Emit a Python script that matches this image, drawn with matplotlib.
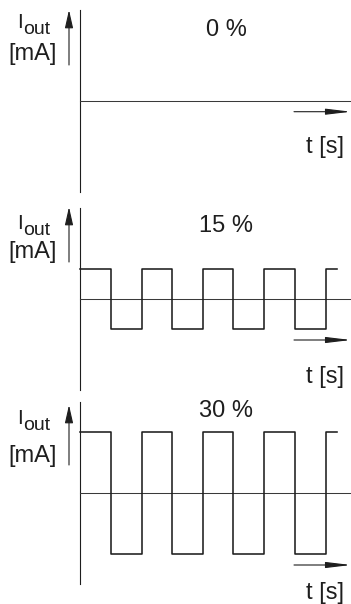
import numpy as np
import matplotlib
matplotlib.use("Agg")
import matplotlib.pyplot as plt

plt.rcParams['font.family'] = ['Liberation Sans', 'DejaVu Sans']

# duty settings shown, one panel each
duty_labels = ["0 %", "15 %", "30 %"]
# swing of the output around the mean level (drawing units)
amplitudes = [0, 30, 61]
# switching instants of the square wave (drawing units from the axis)
edges = [0, 31, 62, 92, 123, 153, 184, 215, 246, 257]

y_label_top = "I"
y_label_sub = "out"
y_unit = "[mA]"
x_label = "t [s]"

# layout of the three panels (pixel rows of the mean line, text offsets)
mids = [101, 298.7, 492.7]
title_y = [65, 66.7, 75.7]
ilabel_y = [73, 69.7, 68.7]
unit_y = [41, 40.7, 30.7]
yarrow = [(36, 91), (36.7, 91.7), (27.7, 87.7)]
tarrow_y = [-10.7, -41.3, -72.3]
tlabel_y = [-52.5, -84.3, -105.8]

ink = '#1e1e1e'
fig = plt.figure(figsize=(3.51, 6.04), dpi=100)

for i in range(3):
    mid = mids[i]
    ax = fig.add_axes([0, 1 - (mid + 100) / 604, 1, 200 / 604])
    ax.set_xlim(-80, 271)
    ax.set_ylim(-100, 100)
    ax.axis('off')

    # axes
    ax.plot([0, 0], [91, -91], color=ink, lw=0.8)
    ax.plot([0, 271], [0, 0], color='#3a3a3a', lw=0.75)

    # square wave
    amp = amplitudes[i]
    if amp > 0:
        levels = [amp if k % 2 == 0 else -amp for k in range(len(edges) - 1)]
        levels.append(levels[-1])
        ax.step(edges, levels, where='post', color=ink, lw=1.15)

    # arrows
    ax.annotate('', xy=(-11, yarrow[i][1]), xytext=(-11, yarrow[i][0]),
                arrowprops=dict(arrowstyle='-|>,head_length=1.1,head_width=0.25',
                                mutation_scale=10, lw=0.8, color=ink,
                                shrinkA=0, shrinkB=0))
    ax.annotate('', xy=(271, tarrow_y[i]), xytext=(214, tarrow_y[i]),
                arrowprops=dict(arrowstyle='-|>,head_length=1.5,head_width=0.18',
                                mutation_scale=10, lw=0.8, color=ink,
                                shrinkA=0, shrinkB=0))

    # texts
    ax.text(146, title_y[i], duty_labels[i], ha='center', va='baseline',
            fontsize=17, color=ink)
    ax.text(-63, ilabel_y[i], y_label_top, ha='left', va='baseline',
            fontsize=15, color=ink)
    ax.text(-56.8, ilabel_y[i] - 6, y_label_sub, ha='left', va='baseline',
            fontsize=14, color=ink)
    ax.text(-72, unit_y[i], y_unit, ha='left', va='baseline',
            fontsize=17, color=ink)
    ax.text(264, tlabel_y[i], x_label, ha='right', va='baseline',
            fontsize=17, color=ink)

plt.savefig('out.png', dpi=100)
